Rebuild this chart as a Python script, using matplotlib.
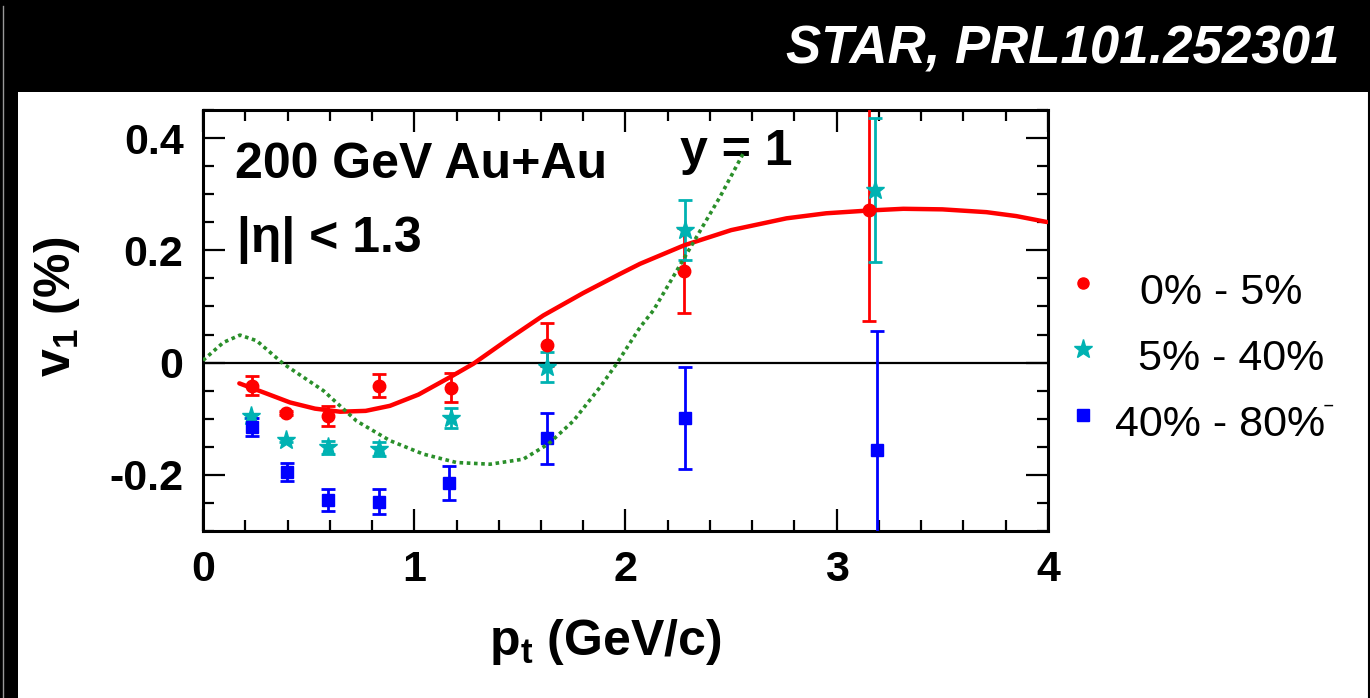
import numpy as np
import matplotlib
matplotlib.use("Agg")
import matplotlib.pyplot as plt
from matplotlib.patches import Rectangle
from matplotlib.lines import Line2D
from matplotlib.ticker import MultipleLocator

plt.rcParams["font.family"] = ["Liberation Sans", "DejaVu Sans"]
plt.rcParams["mathtext.fontset"] = "custom"
plt.rcParams["mathtext.rm"] = "Liberation Sans:bold"
plt.rcParams["mathtext.bf"] = "Liberation Sans:bold"
plt.rcParams["mathtext.it"] = "Liberation Sans:bold"

# ---------------- data: directed flow v1 vs pt ----------------
pt_central = [0.232, 0.393, 0.592, 0.833, 1.172, 1.628, 2.278, 3.154]
v1_central = [-0.041, -0.090, -0.095, -0.041, -0.045, 0.032, 0.164, 0.271]
err_central = [0.017, 0.004, 0.018, 0.020, 0.026, 0.038, 0.076, 0.196]

pt_mid = [0.226, 0.393, 0.593, 0.834, 1.172, 1.630, 2.284, 3.181]
v1_mid = [-0.095, -0.138, -0.151, -0.154, -0.098, -0.008, 0.236, 0.308]
err_mid = [0.004, 0.004, 0.012, 0.012, 0.018, 0.026, 0.053, 0.128]

pt_periph = [0.230, 0.396, 0.593, 0.834, 1.166, 1.630, 2.284, 3.189]
v1_periph = [-0.115, -0.195, -0.245, -0.248, -0.214, -0.135, -0.098, -0.156]
err_periph = [0.016, 0.016, 0.019, 0.022, 0.030, 0.045, 0.091, 0.212]

# model curves
pt_model_red = [0.172, 0.30, 0.412, 0.53, 0.649, 0.77, 0.885, 1.02, 1.169, 1.28,
                1.45, 1.611, 1.80, 1.974, 2.069, 2.278, 2.50, 2.762, 2.95, 3.154,
                3.315, 3.50, 3.709, 3.85, 3.994]
v1_model_red = [-0.037, -0.055, -0.071, -0.082, -0.0875, -0.086, -0.077, -0.057, -0.026, -0.002,
                0.043, 0.084, 0.124, 0.158, 0.176, 0.209, 0.236, 0.257, 0.266, 0.271,
                0.274, 0.273, 0.268, 0.261, 0.2505]

pt_model_green = [0.0, 0.097, 0.175, 0.254, 0.38, 0.57, 0.727, 0.885, 1.043, 1.2,
                  1.359, 1.516, 1.635, 1.753, 1.879, 1.958, 2.069, 2.132, 2.29, 2.447, 2.558]
v1_model_green = [0.004, 0.036, 0.049, 0.039, -0.002, -0.05, -0.104, -0.139, -0.163, -0.178,
                  -0.181, -0.172, -0.145, -0.104, -0.044, -0.002, 0.063, 0.093, 0.194, 0.295, 0.373]

labels = ["0% - 5%", "5% - 40%", "40% - 80%"]

RED = "#ff0000"
CYAN = "#00b2b2"
BLUE = "#0000ff"
GREEN = "#2a8f2a"

W, H = 1370, 698
fig = plt.figure(figsize=(W / 100, H / 100), dpi=100)

# black banner and frame
fig.patches.append(Rectangle((0, 1 - 92 / H), 1, 92 / H, transform=fig.transFigure,
                             facecolor="black", edgecolor="none", zorder=0))
fig.patches.append(Rectangle((0, 0), 18 / W, 1, transform=fig.transFigure,
                             facecolor="black", edgecolor="none", zorder=0))
fig.lines.append(Line2D([2.5 / W, 2.5 / W], [0, 1 - 6 / H], transform=fig.transFigure,
                        color="#999999", lw=1))
fig.lines.append(Line2D([1368.5 / W, 1368.5 / W], [0, 1 - 92 / H], transform=fig.transFigure,
                        color="black", lw=1.5))
fig.text(1340 / W, 1 - 63 / H, "STAR, PRL101.252301", color="white", fontsize=38,
         fontweight="bold", fontstyle="italic", ha="right", va="baseline")

ax = fig.add_axes([203 / W, 1 - 531 / H, 845 / W, 421 / H])
ax.set_xlim(0, 4)
ax.set_ylim(-0.3, 0.45)

ax.axhline(0, color="black", lw=1.6, zorder=1)

ax.errorbar(pt_central, v1_central, yerr=err_central, fmt="o", color=RED, ms=9,
            elinewidth=2, capsize=5, capthick=2, zorder=3)
ax.errorbar(pt_mid, v1_mid, yerr=err_mid, fmt="*", color=CYAN, ms=14,
            elinewidth=2, capsize=5, capthick=2, zorder=3)
ax.errorbar(pt_periph, v1_periph, yerr=err_periph, fmt="s", color=BLUE, ms=9,
            elinewidth=2, capsize=5, capthick=2, zorder=3)

ax.plot(pt_model_red, v1_model_red, color=RED, lw=3.2, zorder=4,
        solid_joinstyle="round", solid_capstyle="round")
ax.plot(pt_model_green, v1_model_green, color=GREEN, lw=2.6, ls=(0, (1, 1)), zorder=4)

ax.text(0.152, 0.329, "200 GeV Au+Au", fontsize=36, fontweight="bold", va="baseline")
ax.text(0.159, 0.197, "|η| < 1.3", fontsize=36, fontweight="bold", va="baseline")
ax.text(2.258, 0.352, "y = 1", fontsize=36, fontweight="bold", va="baseline", zorder=2)

ax.xaxis.set_major_locator(MultipleLocator(1))
ax.xaxis.set_minor_locator(MultipleLocator(0.2))
ax.yaxis.set_major_locator(MultipleLocator(0.2))
ax.yaxis.set_minor_locator(MultipleLocator(0.05))
ax.tick_params(which="both", direction="in", top=True, right=True, width=1.6)
ax.tick_params(which="major", length=16, labelsize=31, pad=14)
ax.tick_params(which="minor", length=8)
ax.xaxis.set_major_formatter(plt.FuncFormatter(lambda v, p: f"{v:g}"))
ax.yaxis.set_major_formatter(plt.FuncFormatter(lambda v, p: "0" if abs(v) < 1e-9 else f"{v:.1f}"))
for lab in ax.get_xticklabels() + ax.get_yticklabels():
    lab.set_fontweight("bold")
for s in ax.spines.values():
    s.set_linewidth(2.2)

fig.text(57 / W, 1 - 307 / H, r"v$_{1}$ (%)", rotation=90, fontsize=36,
         fontweight="bold", ha="center", va="center")
fig.text(605 / W, 1 - 655 / H, r"p$_{t}$ (GeV/c)", fontsize=36,
         fontweight="bold", ha="center", va="baseline")

# legend drawn by hand
leg_markers = [("o", RED, 8), ("*", CYAN, 14), ("s", BLUE, 8)]
leg_y = [283, 349, 415]
text_x = [1140, 1138, 1115]
for (m, c, s), y, lab, tx in zip(leg_markers, leg_y, labels, text_x):
    fig.lines.append(Line2D([1083 / W], [1 - y / H], marker=m, color=c, ms=s, ls="none",
                            transform=fig.transFigure))
    fig.text(tx / W, 1 - (y + 10) / H, lab, fontsize=31, ha="left", va="center")
fig.text(1328 / W, 1 - 417 / H, "‾", fontsize=16, ha="center", va="center")

fig.savefig("out.png", dpi=100)
